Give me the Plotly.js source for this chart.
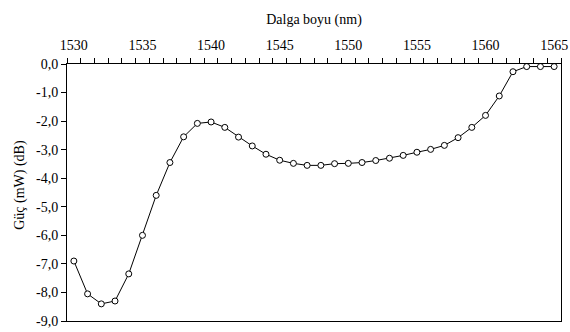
<!DOCTYPE html>
<html>
<head>
<meta charset="utf-8">
<script src="https://cdn.plot.ly/plotly-3.0.1.min.js"></script>
<style>
html,body{margin:0;padding:0;background:#fff;}
#chart{width:570px;height:332px;}
#chart svg text{font-family:'Liberation Serif', serif !important;}
</style>
</head>
<body>
<div id="chart"></div>
<script>
const wavelengths = [1530,1531,1532,1533,1534,1535,1536,1537,1538,1539,1540,1541,1542,1543,1544,1545,1546,1547,1548,1549,1550,1551,1552,1553,1554,1555,1556,1557,1558,1559,1560,1561,1562,1563,1564,1565];
const power = [-6.9,-8.05,-8.4,-8.3,-7.35,-6.0,-4.6,-3.45,-2.55,-2.08,-2.03,-2.22,-2.56,-2.87,-3.16,-3.37,-3.48,-3.55,-3.55,-3.49,-3.48,-3.45,-3.38,-3.30,-3.2,-3.09,-2.99,-2.85,-2.58,-2.22,-1.8,-1.12,-0.27,-0.09,-0.09,-0.09];
const xTickVals = [1530,1535,1540,1545,1550,1555,1560,1565];
const xTickText = ['1530','1535','1540','1545','1550','1555','1560','1565'];
const yTickVals = [0,-1,-2,-3,-4,-5,-6,-7,-8,-9];
const yTickText = ['0,0','-1,0','-2,0','-3,0','-4,0','-5,0','-6,0','-7,0','-8,0','-9,0'];
const xTitle = 'Dalga boyu (nm)';
const yTitle = 'Güç (mW) (dB)';

const F = 'Liberation Serif';
const trace = {
  x: wavelengths, y: power, type: 'scatter', mode: 'lines+markers',
  line: {color: '#000', width: 1},
  marker: {symbol: 'circle', size: 6, color: '#fff', line: {color: '#000', width: 1}},
  cliponaxis: false, hoverinfo: 'none'
};
const layout = {
  width: 570, height: 332,
  margin: {l: 67, r: 9, t: 64, b: 11},
  paper_bgcolor: '#fff', plot_bgcolor: '#fff',
  showlegend: false,
  font: {family: F, size: 14, color: '#000'},
  xaxis: {
    side: 'top', range: [1529.5, 1565.5], tickmode: 'array',
    tickvals: xTickVals, ticktext: xTickText,
    ticks: '', ticklabelstandoff: 7,
    showline: true, linecolor: '#000', linewidth: 1, mirror: true,
    showgrid: false, zeroline: false,
    tickfont: {family: F, size: 14, color: '#000'},
    minor: {tickmode: 'linear', tick0: 1529.5, dtick: 1, ticks: 'outside', ticklen: 5, tickcolor: '#000', tickwidth: 1, showgrid: false},
    title: {text: xTitle, font: {family: F, size: 14, color: '#000'}, standoff: 10}
  },
  yaxis: {
    range: [-9, 0], tickmode: 'array', tickvals: yTickVals, ticktext: yTickText,
    ticks: 'outside', ticklen: 5, tickcolor: '#000', tickwidth: 1,
    showline: true, linecolor: '#000', linewidth: 1, mirror: true,
    showgrid: false, zeroline: false,
    tickfont: {family: F, size: 14, color: '#000'}
  },
  annotations: [{
    text: yTitle, xref: 'paper', yref: 'paper', x: -0.095, y: 0.53,
    xanchor: 'center', yanchor: 'middle', textangle: -90, showarrow: false,
    font: {family: F, size: 14, color: '#000'}
  }]
};
Plotly.newPlot('chart', [trace], layout, {displayModeBar: false, staticPlot: true});
</script>
</body>
</html>
